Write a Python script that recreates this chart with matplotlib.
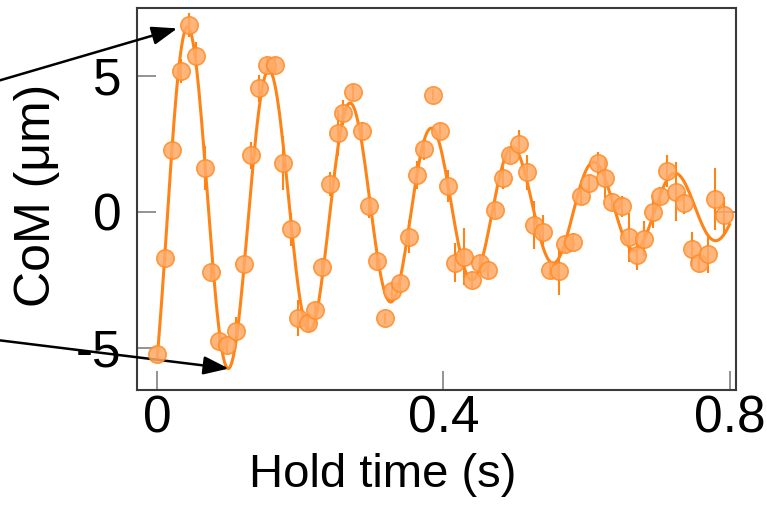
import numpy as np
import matplotlib
matplotlib.use("Agg")
from matplotlib import pyplot as plt

# hold time (s), centre of mass (um), error (um)
hold_time = [0.000, 0.011, 0.0205, 0.033, 0.045, 0.055, 0.067, 0.076, 0.087, 0.098,
             0.110, 0.1215, 0.132, 0.143, 0.153, 0.165, 0.1755, 0.187, 0.197, 0.211,
             0.2207, 0.231, 0.2416, 0.253, 0.260, 0.274, 0.286, 0.2965, 0.307, 0.3187,
             0.328, 0.339, 0.352, 0.3627, 0.373, 0.385, 0.395, 0.407, 0.416, 0.429,
             0.4395, 0.451, 0.4627, 0.472, 0.4837, 0.493, 0.506, 0.517, 0.5265, 0.5395,
             0.549, 0.562, 0.570, 0.5815, 0.593, 0.6035, 0.6155, 0.626, 0.636, 0.649,
             0.6595, 0.670, 0.6806, 0.693, 0.7025, 0.713, 0.7257, 0.736, 0.748, 0.7575,
             0.770, 0.780, 0.792]
com = [-5.23, -1.70, 2.28, 5.19, 6.88, 5.74, 1.61, -2.22, -4.73, -4.89,
       -4.38, -1.92, 2.08, 4.55, 5.40, 5.40, 1.79, -0.64, -3.91, -4.09,
       -3.60, -2.01, 1.02, 2.89, 3.65, 4.42, 2.99, 0.20, -1.80, -3.91,
       -2.90, -2.62, -0.91, 1.36, 2.30, 4.30, 2.98, 0.96, -1.86, -1.64,
       -2.50, -1.89, -2.13, 0.07, 1.24, 2.10, 2.50, 1.46, -0.48, -0.72,
       -2.13, -2.19, -1.19, -1.09, 0.59, 1.05, 1.79, 1.24, 0.38, 0.20,
       -0.93, -1.58, -0.99, 0.01, 0.60, 1.51, 0.75, 0.34, -1.36, -1.89,
       -1.54, 0.48, -0.11]
com_err = [0.2, 0.3, 0.3, 0.45, 0.45, 0.5, 0.8, 0.3, 0.3, 0.3,
           0.5, 0.3, 0.5, 0.5, 0.3, 0.3, 1.0, 0.6, 0.67, 0.3,
           0.3, 0.3, 0.45, 0.85, 0.47, 0.3, 0.3, 0.43, 0.3, 0.2,
           0.3, 0.3, 0.6, 0.5, 0.4, 0.2, 0.3, 0.6, 0.73, 1.04,
           0.3, 0.3, 0.3, 0.3, 0.4, 0.3, 0.5, 0.64, 0.9, 0.6,
           0.3, 0.86, 0.3, 0.3, 0.3, 0.3, 0.4, 0.73, 0.3, 0.4,
           0.9, 0.55, 0.64, 0.6, 0.3, 0.6, 1.1, 0.4, 0.64, 0.3,
           0.69, 1.13, 0.67]

# damped-cosine fit parameters
fit_amp = 7.44
fit_tau = 0.42
fit_period = 0.1135
fit_t_peak = 0.0435
fit_offset = 0.1
fit_t_end = 0.8

x_ticks = [0, 0.4, 0.8]
x_tick_labels = ['0', '0.4', '0.8']
y_ticks = [-5, 0, 5]


def damped_fit(t):
    return (fit_amp * np.exp(-t / fit_tau)
            * np.cos(2 * np.pi * (t - fit_t_peak) / fit_period) + fit_offset)


plt.rcParams['font.family'] = ['Liberation Sans', 'DejaVu Sans']
plt.rcParams['axes.unicode_minus'] = False

fig = plt.figure(figsize=(7.67, 5.17), dpi=100)
ax = fig.add_axes([0.1786, 0.2456, 0.781, 0.7389])

line_color = '#ff8418'
t_fit = np.linspace(0, fit_t_end, 400)
ax.plot(t_fit, damped_fit(t_fit), color=line_color, lw=2.2, zorder=3)

ax.errorbar(hold_time, com, yerr=com_err, fmt='none', ecolor=line_color,
            elinewidth=1.5, capsize=0, zorder=2)
ax.plot(hold_time, com, 'o', ms=12.5, mfc='#ffaa66', mec='#ff8c26',
        mew=1.2, alpha=0.85, zorder=4)

ax.set_xlim(-0.028, 0.809)
ax.set_ylim(-6.55, 7.5)
ax.set_xticks(x_ticks)
ax.set_xticklabels(x_tick_labels)
ax.set_yticks(y_ticks)

for side in ax.spines.values():
    side.set_color('#3a3a3a')
    side.set_linewidth(1.5)

ax.tick_params(direction='in', length=13.5, width=1.2, color='#808080',
               labelsize=37, pad=3)
ax.tick_params(axis='y', pad=11)
ax.axhline(0, xmin=1 - 19 / 599, xmax=1, color='#808080', lw=1.2)

ax.set_xlabel('Hold time (s)', fontsize=34)
ax.xaxis.set_label_coords(0.41, -0.165)
ax.set_ylabel('CoM (μm)', fontsize=36)
ax.yaxis.set_label_coords(-0.128, 0.51)

# arrows coming in from the left edge
arrow_props = dict(arrowstyle='-|>,head_length=0.55,head_width=0.2', color='black',
                   lw=1.8, mutation_scale=28, shrinkA=0)
ax.annotate('', xy=(hold_time[4], com[4]), xycoords='data',
            xytext=(-0.013, 0.839), textcoords='figure fraction',
            arrowprops=dict(arrow_props, shrinkB=9), annotation_clip=False)
t_trough = fit_t_peak + fit_period / 2
ax.annotate('', xy=(t_trough, damped_fit(t_trough)), xycoords='data',
            xytext=(-0.013, 0.344), textcoords='figure fraction',
            arrowprops=dict(arrow_props, shrinkB=0), annotation_clip=False)

plt.savefig('out.png', dpi=100)
